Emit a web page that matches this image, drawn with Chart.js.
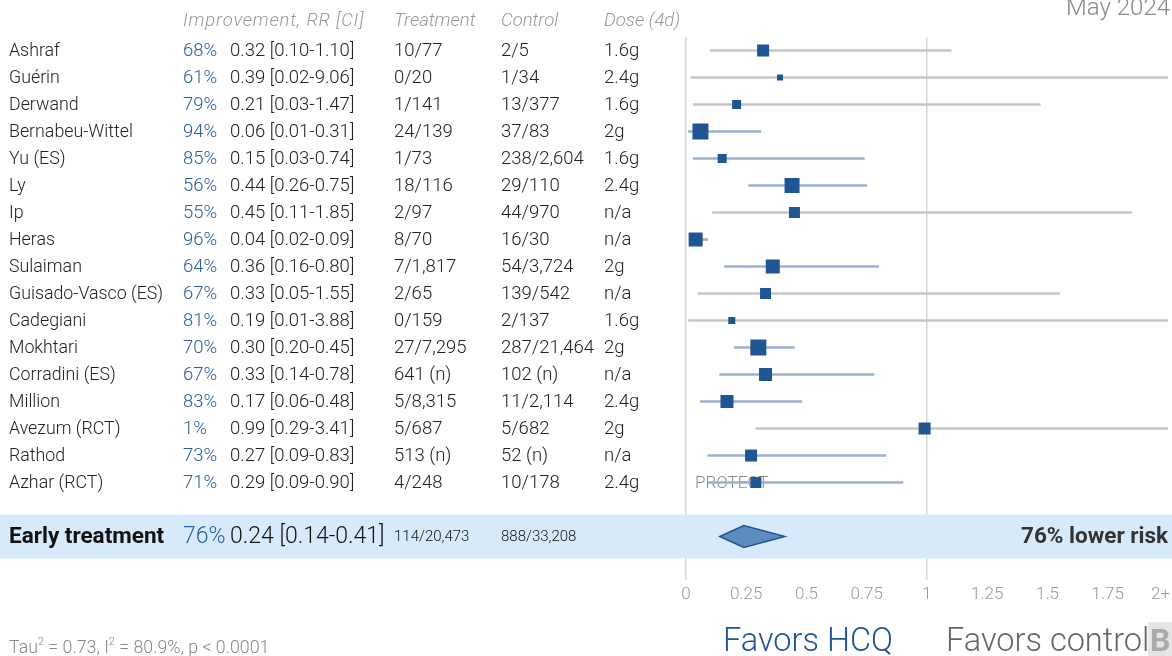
<!DOCTYPE html>
<html>
<head>
<meta charset="utf-8">
<script src="https://cdn.jsdelivr.net/npm/chart.js@4.4.1/dist/chart.umd.min.js"></script>
<style>
  html, body { margin: 0; padding: 0; background: #fff; }
  #wrap { position: relative; width: 1172px; height: 656px; overflow: hidden; }
</style>
</head>
<body>
<div id="wrap"><canvas id="forest" width="1172" height="656"></canvas></div>
<script>
// studies, top to bottom
var studies = ["Ashraf", "Guérin", "Derwand", "Bernabeu-Wittel", "Yu (ES)", "Ly", "Ip", "Heras", "Sulaiman",
  "Guisado-Vasco (ES)", "Cadegiani", "Mokhtari", "Corradini (ES)", "Million", "Avezum (RCT)", "Rathod", "Azhar (RCT)"];
var improvement = ["68%", "61%", "79%", "94%", "85%", "56%", "55%", "96%", "64%", "67%", "81%", "70%", "67%", "83%", "1%", "73%", "71%"];
var rr = [0.32, 0.39, 0.21, 0.06, 0.15, 0.44, 0.45, 0.04, 0.36, 0.33, 0.19, 0.30, 0.33, 0.17, 0.99, 0.27, 0.29];
var lo = [0.10, 0.02, 0.03, 0.01, 0.03, 0.26, 0.11, 0.02, 0.16, 0.05, 0.01, 0.20, 0.14, 0.06, 0.29, 0.09, 0.09];
var hi = [1.10, 9.06, 1.47, 0.31, 0.74, 0.75, 1.85, 0.09, 0.80, 1.55, 3.88, 0.45, 0.78, 0.48, 3.41, 0.83, 0.90];
var treatment = ["10/77", "0/20", "1/141", "24/139", "1/73", "18/116", "2/97", "8/70", "7/1,817", "2/65", "0/159",
  "27/7,295", "641 (n)", "5/8,315", "5/687", "513 (n)", "4/248"];
var control = ["2/5", "1/34", "13/377", "37/83", "238/2,604", "29/110", "44/970", "16/30", "54/3,724", "139/542", "2/137",
  "287/21,464", "102 (n)", "11/2,114", "5/682", "52 (n)", "10/178"];
var dose = ["1.6g", "2.4g", "1.6g", "2g", "1.6g", "2.4g", "n/a", "n/a", "2g", "n/a", "1.6g", "2g", "n/a", "2.4g", "2g", "n/a", "2.4g"];
// relative study weight (drives square size)
var weights = [12, 6, 9, 16, 9, 15, 11, 14, 14, 11, 7, 16, 13, 13, 12, 12, 11];
var notes = ["", "", "", "", "", "", "", "", "", "", "", "", "", "", "", "", "PROTECT"];

// pooled result
var summaryLabel = "Early treatment";
var summaryImprovement = "76%";
var summaryRR = 0.24, summaryLo = 0.14, summaryHi = 0.41;
var summaryTreatment = "114/20,473";
var summaryControl = "888/33,208";
var summaryNote = "76% lower risk";
var statsText = ["Tau", "2", " = 0.73, I", "2", " = 80.9%, p < 0.0001"];

var headers = ["Improvement, RR [CI]", "Treatment", "Control", "Dose (4d)"];
var xTicks = [0, 0.25, 0.5, 0.75, 1, 1.25, 1.5, 1.75, 2];
var xTickLabels = ["0", "0.25", "0.5", "0.75", "1", "1.25", "1.5", "1.75", "2+"];

var summaryRow = studies.length + 1;
var FONT = "Roboto, 'Open Sans', sans-serif";
var BLUE = "#1f5592";

function fmt(v) { return v.toFixed(2); }

var ciData = studies.map(function (s, i) { return { x: [lo[i], hi[i]], y: i }; });
var pointData = studies.map(function (s, i) { return { x: rr[i], y: i }; });

// left-hand table, header, footer, summary band, diamond, axis labels
var tablePlugin = {
  id: "table",
  beforeDatasetsDraw: function (chart) {
    var ctx = chart.ctx, ys = chart.scales.y, xs = chart.scales.x;
    var cy = ys.getPixelForValue(summaryRow);
    ctx.save();
    // summary band
    ctx.fillStyle = "#d6eafc";
    ctx.fillRect(0, cy - 22, chart.width, 44);

    ctx.textBaseline = "middle";
    ctx.textAlign = "left";

    // header
    ctx.font = "italic 300 18.5px " + FONT;
    ctx.fillStyle = "#999";
    var hy = ys.getPixelForValue(-1.1) + 1;
    ctx.letterSpacing = "0.8px";
    ctx.fillText(headers[0], 183, hy);
    ctx.letterSpacing = "0px";
    ctx.fillText(headers[1], 394, hy);
    ctx.fillText(headers[2], 501, hy);
    ctx.fillText(headers[3], 604, hy);

    // rows
    studies.forEach(function (s, i) {
      var y = ys.getPixelForValue(i) + 1;
      ctx.font = "300 17.8px " + FONT;
      ctx.fillStyle = "#222";
      ctx.fillText(s, 9, y);
      ctx.font = "300 18.5px " + FONT;
      ctx.fillStyle = "#2c5f9e";
      ctx.fillText(improvement[i], 183, y);
      ctx.fillStyle = "#222";
      ctx.fillText(fmt(rr[i]) + " [" + fmt(lo[i]) + "-" + fmt(hi[i]) + "]", 230, y);
      ctx.fillText(treatment[i], 394, y);
      ctx.fillText(control[i], 501, y);
      ctx.fillText(dose[i], 604, y);
      if (notes[i]) {
        ctx.font = "300 17px " + FONT;
        ctx.fillStyle = "#888";
        ctx.fillText(notes[i], 695, y);
      }
    });

    // summary row text
    cy += 1;
    ctx.font = "bold 22.5px " + FONT;
    ctx.fillStyle = "#111";
    ctx.fillText(summaryLabel, 9, cy);
    ctx.font = "300 23px " + FONT;
    ctx.fillStyle = "#2c5f9e";
    ctx.fillText(summaryImprovement, 183, cy);
    ctx.fillStyle = "#111";
    ctx.fillText(fmt(summaryRR) + " [" + fmt(summaryLo) + "-" + fmt(summaryHi) + "]", 230, cy);
    ctx.font = "300 15px " + FONT;
    ctx.fillText(summaryTreatment, 394, cy);
    ctx.fillText(summaryControl, 501, cy);
    ctx.font = "bold 22.5px " + FONT;
    ctx.fillStyle = "#333";
    ctx.textAlign = "right";
    ctx.fillText(summaryNote, 1168, cy);
    cy -= 1;

    // pooled diamond
    var xl = xs.getPixelForValue(summaryLo), xm = xs.getPixelForValue(summaryRR), xr = xs.getPixelForValue(summaryHi);
    ctx.beginPath();
    ctx.moveTo(xl, cy);
    ctx.lineTo(xm, cy - 11);
    ctx.lineTo(xr, cy);
    ctx.lineTo(xm, cy + 11);
    ctx.closePath();
    ctx.fillStyle = "#5f8cc0";
    ctx.fill();
    ctx.lineWidth = 1.5;
    ctx.strokeStyle = BLUE;
    ctx.stroke();

    // x tick labels
    ctx.font = "300 17px " + FONT;
    ctx.fillStyle = "#999";
    ctx.textAlign = "center";
    xTicks.forEach(function (v, k) {
      var w = ctx.measureText(xTickLabels[k]).width;
      var px = Math.min(xs.getPixelForValue(v), chart.width - 2 - w / 2);
      ctx.fillText(xTickLabels[k], px, xs.top + 15);
    });

    // footer
    ctx.textAlign = "left";
    ctx.textBaseline = "alphabetic";
    ctx.fillStyle = "#888";
    var fx = 9;
    statsText.forEach(function (t, k) {
      if (k % 2 === 1) {
        ctx.font = "300 11px " + FONT;
        ctx.fillText(t, fx, 645);
      } else {
        ctx.font = "300 17.8px " + FONT;
        ctx.fillText(t, fx, 653);
      }
      fx += ctx.measureText(t).width;
    });

    ctx.font = "300 32.5px " + FONT;
    ctx.fillStyle = BLUE;
    ctx.fillText("Favors HCQ", 723, 651);
    ctx.fillStyle = "#666";
    ctx.fillText("Favors control", 946, 651);
    ctx.fillStyle = "#e6e6e6";
    ctx.fillRect(1148, 622, 24, 34);
    ctx.fillStyle = "#aaa";
    ctx.font = "bold 32px " + FONT;
    ctx.fillText("B", 1150, 651);

    ctx.font = "300 24px " + FONT;
    ctx.fillStyle = "#888";
    ctx.textAlign = "right";
    ctx.fillText("May 2024", 1170, 15);
    ctx.restore();
  }
};

var chart = new Chart(document.getElementById("forest").getContext("2d"), {
  type: "bar",
  data: {
    datasets: [
      {
        type: "bar",
        indexAxis: "y",
        data: ciData,
        barThickness: 2,
        borderWidth: 0,
        backgroundColor: function (c) {
          return hi[c.dataIndex] < 1 ? "#9ab2d2" : "#c6c6c6";
        },
        order: 2
      },
      {
        type: "scatter",
        data: pointData,
        pointStyle: "rect",
        pointRadius: function (c) { return weights[c.dataIndex] / Math.SQRT2; },
        pointHoverRadius: function (c) { return weights[c.dataIndex] / Math.SQRT2; },
        backgroundColor: BLUE,
        borderWidth: 0,
        order: 1
      }
    ]
  },
  options: {
    indexAxis: "y",
    responsive: false,
    animation: false,
    layout: { autoPadding: false, padding: { left: 686, right: 4, top: 37, bottom: 56 } },
    plugins: { legend: { display: false }, tooltip: { enabled: false } },
    scales: {
      x: {
        type: "linear",
        min: 0,
        max: 2,
        offset: false,
        afterBuildTicks: function (s) { s.ticks = xTicks.map(function (v) { return { value: v }; }); },
        afterFit: function (s) { s.height = 20; },
        border: { display: false },
        grid: {
          drawTicks: false,
          lineWidth: 1.5,
          color: function (c) {
            return c.tick && (c.tick.value === 0 || c.tick.value === 1) ? "#d6d6d6" : "rgba(0,0,0,0)";
          }
        },
        ticks: { display: false }
      },
      y: {
        type: "linear",
        display: false,
        offset: false,
        reverse: true,
        min: -0.5,
        max: 19.61
      }
    }
  },
  plugins: [tablePlugin]
});
</script>
</body>
</html>
